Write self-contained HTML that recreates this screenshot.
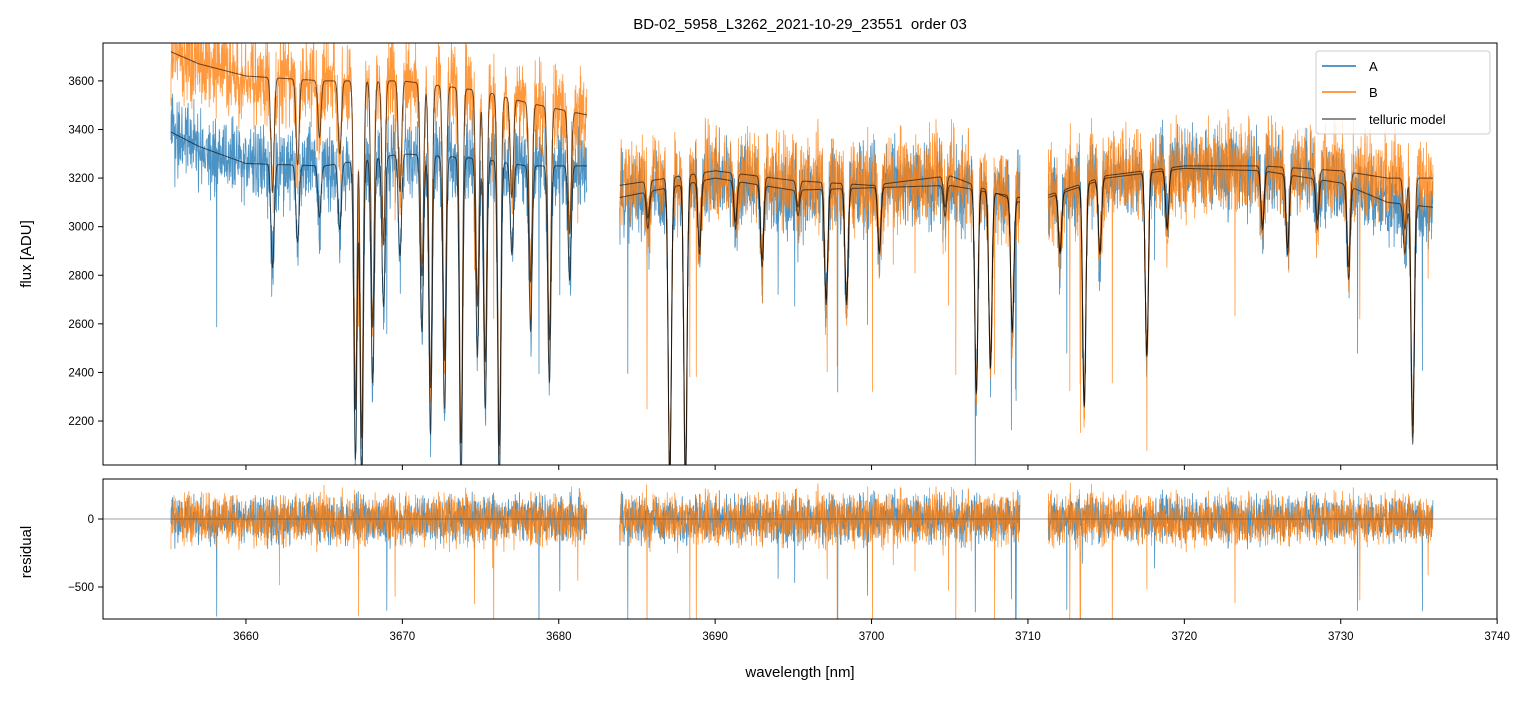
<!DOCTYPE html>
<html><head><meta charset="utf-8"><style>
body{margin:0;background:#fff;}
svg text{font-family:"Liberation Sans","DejaVu Sans",sans-serif;}
</style></head><body>
<svg id="chart" width="1533" height="696" viewBox="0 0 1533 696">
<defs>
<clipPath id="ctop"><rect x="103" y="43" width="1394" height="422"/></clipPath>
<clipPath id="cbot"><rect x="103" y="479" width="1394" height="140"/></clipPath>
</defs>
<text x="800" y="29" font-size="15" text-anchor="middle" style="white-space:pre">BD-02_5958_L3262_2021-10-29_23551  order 03</text>
<g id="gtop" clip-path="url(#ctop)"></g>
<g id="gbot" clip-path="url(#cbot)"></g>
<rect x="103" y="43" width="1394" height="422" fill="none" stroke="#000" stroke-width="1"/>
<rect x="103" y="479" width="1394" height="140" fill="none" stroke="#000" stroke-width="1"/>
<g id="axes"></g>
<text x="31" y="254" font-size="15" text-anchor="middle" transform="rotate(-90 31 254)">flux [ADU]</text>
<text x="31" y="552" font-size="15" text-anchor="middle" transform="rotate(-90 31 552)">residual</text>
<text x="800" y="677" font-size="15" text-anchor="middle">wavelength [nm]</text>
<g>
<rect x="1316" y="51" width="174" height="83" rx="3" fill="#fff" fill-opacity="0.8" stroke="#ccc"/>
<line x1="1322" y1="66" x2="1356" y2="66" stroke="#1f77b4" stroke-width="1.5"/>
<text x="1369" y="71" font-size="13">A</text>
<line x1="1322" y1="92" x2="1356" y2="92" stroke="#ff7f0e" stroke-width="1.5"/>
<text x="1369" y="97" font-size="13">B</text>
<line x1="1322" y1="119" x2="1356" y2="119" stroke="#666" stroke-width="1.5"/>
<text x="1369" y="124" font-size="13">telluric model</text>
</g>
</svg>
<script>
// data
const segments=[[3655.2,3681.8],[3683.9,3709.5],[3711.3,3735.9]];
const contWl=[3655.2,3657,3660,3665,3670,3675,3678,3681.8,3683.9,3690,3695,3700,3705,3709.5,3711.3,3715,3720,3725,3730,3733,3735.9];
const contA=[3390,3330,3260,3250,3300,3280,3250,3250,3120,3200,3150,3160,3170,3120,3120,3200,3240,3230,3180,3100,3080];
const contB=[3720,3670,3620,3600,3600,3560,3510,3460,3170,3230,3190,3170,3210,3100,3130,3210,3250,3250,3230,3200,3200];
const lineWl=[3661.7,3663.3,3664.7,3666,3667.0,3667.4,3668.1,3668.8,3669.85,3671.25,3671.8,3672.7,3673.75,3674.8,3675.3,3676.2,3677,3678.2,3679.4,3680.7,3685.7,3687.1,3688.1,3689.0,3691.3,3693.0,3695.3,3697.1,3698.4,3700.5,3704.7,3706.7,3707.6,3709.0,3712.05,3713.6,3714.6,3717.6,3718.9,3725,3726.6,3728.5,3730.5,3734.1,3734.6];
const lineMin=[2850,2950,3050,3000,2100,2000,2400,2700,2900,2600,2200,2300,2000,2500,2300,2000,2900,2600,2400,2800,3000,2000,2000,2900,3000,2850,3050,2700,2700,2900,3050,2350,2450,2600,2900,2300,2900,2500,3000,3000,2900,3000,2800,2900,2150];
const xTicks=[3660,3670,3680,3690,3700,3710,3720,3730,3740];
const yTicks=[2200,2400,2600,2800,3000,3200,3400,3600];
const rTicks=[-500,0];

const X=w=>103+(w-3650.86)*15.64;
const Y=v=>465-(v-2019)*(422/1737);
const R=v=>519-v*(68/500);
const NS="http://www.w3.org/2000/svg";
function interp(xs,ys,x){if(x<=xs[0])return ys[0];for(let i=1;i<xs.length;i++)if(x<=xs[i]){const t=(x-xs[i-1])/(xs[i]-xs[i-1]);return ys[i-1]+t*(ys[i]-ys[i-1]);}return ys[ys.length-1];}
function model(w,cont){let f=1;for(let i=0;i<lineWl.length;i++){const dw=w-lineWl[i];if(Math.abs(dw)>0.7)continue;const d=1-lineMin[i]/interp(contWl,contA,lineWl[i]);const s=0.1;f*=1-Math.min(d*1.05,0.99)*Math.exp(-(dw*dw)/(2*s*s));}return cont*f;}
// deterministic texture jitter for noise rendering
function h(n){const s=Math.sin(n*127.1+311.7)*43758.5453;return s-Math.floor(s);}
function jit(n){return (h(n)+h(n*1.7+3)+h(n*2.3+7)-1.5)*1.4;}
function path(g,pts,col,sw,op,name){const p=document.createElementNS(NS,'path');p.setAttribute('d','M'+pts.map(q=>q[0].toFixed(1)+','+q[1].toFixed(1)).join('L'));p.setAttribute('fill','none');p.setAttribute('stroke',col);p.setAttribute('stroke-width',sw);p.setAttribute('stroke-opacity',op);


g.appendChild(p);}
const gTop=document.getElementById('gtop'),gBot=document.getElementById('gbot');
let k=0;
const series=[['a',contA,'#1f77b4',115,1],['b',contB,'#ff7f0e',135,2]];
series.forEach(([nm,cont,col,amp,seed])=>{
  segments.forEach((sg,si)=>{
    const pts=[],rp=[];
    for(let w=sg[0];w<=sg[1];w+=0.016){k++;
      const c=interp(contWl,cont,w),m=model(w,c);
      let n=jit(k*seed+si)*amp;
      if(h(k*3.1+seed)>0.995)n-=400+h(k)*500;
      pts.push([X(w),Y(m+n*(m/c))]);
      rp.push([X(w),R(n)]);
    }
    path(gTop,pts,col,0.8,0.8,'series-'+nm+'-seg'+(si+1));
    path(gBot,rp,col,0.8,0.8,'residual-'+nm+'-seg'+(si+1));
  });
});
segments.forEach((sg,si)=>{[contA,contB].forEach((cont,j)=>{const pts=[];for(let w=sg[0];w<=sg[1];w+=0.02){pts.push([X(w),Y(model(w,interp(contWl,cont,w)))]);}path(gTop,pts,'#000',1,0.6,'telluric-model-'+(j?'b':'a')+'-seg'+(si+1));});});
const zl=document.createElementNS(NS,'line');zl.setAttribute('x1',103);zl.setAttribute('x2',1497);zl.setAttribute('y1',R(0));zl.setAttribute('y2',R(0));zl.setAttribute('stroke','#444');zl.setAttribute('stroke-width',0.5);


gBot.appendChild(zl);
const ax=document.getElementById('axes');
function ln(x1,y1,x2,y2){const l=document.createElementNS(NS,'line');l.setAttribute('x1',x1);l.setAttribute('y1',y1);l.setAttribute('x2',x2);l.setAttribute('y2',y2);l.setAttribute('stroke','#000');return l;}
function tx(x,y,s,a){const t=document.createElementNS(NS,'text');t.setAttribute('x',x);t.setAttribute('y',y);t.setAttribute('font-size',11.5);t.setAttribute('text-anchor',a);t.textContent=s;return t;}
xTicks.forEach(v=>{const l=ln(X(v),465,X(v),470);


ax.appendChild(l);const l2=ln(X(v),619,X(v),624);


ax.appendChild(l2);const t=tx(X(v),640,v,'middle');


ax.appendChild(t);});
yTicks.forEach(v=>{const l=ln(98,Y(v),103,Y(v));


ax.appendChild(l);const t=tx(94,Y(v)+4,v,'end');


ax.appendChild(t);});
rTicks.forEach(v=>{const l=ln(98,R(v),103,R(v));


ax.appendChild(l);const t=tx(94,R(v)+4,v===0?'0':'\u2212500','end');


ax.appendChild(t);});
</script>
</body></html>
